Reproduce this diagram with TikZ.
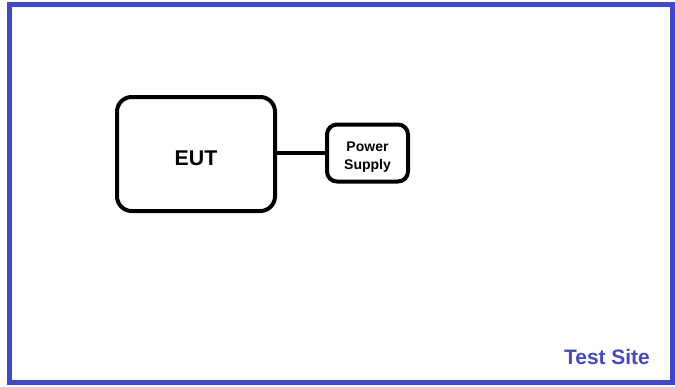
\documentclass[tikz,border=0pt]{standalone}
\usepackage{fontspec}
\setmainfont{Liberation Sans}
\definecolor{siteblue}{RGB}{66,72,206}
\begin{document}
\begin{tikzpicture}[x=0.75pt,y=-0.75pt,
    unit/.style={draw, line width=3pt, rounded corners=11pt, font=\bfseries\fontsize{16}{18}\selectfont},
    supply/.style={draw, line width=3pt, rounded corners=7.5pt, align=center, font=\bfseries\fontsize{10.5}{12.5}\selectfont},
    wire/.style={line width=3pt}]
\useasboundingbox (0,0) rectangle (675,386);
\draw[siteblue, line width=4pt] (9.5,4.5) rectangle (672.5,382.5);
\node[unit, minimum width=118.5pt, minimum height=85.5pt] (eut) at (196,154) {\raisebox{-3pt}[11.5pt][0pt]{EUT}};
\node[supply, minimum width=60.75pt, minimum height=42.75pt] (ps) at (367.5,153) {\raisebox{-1.5pt}[8pt][0pt]{Power}\\[0.5pt]\raisebox{-1.5pt}[8pt][0pt]{Supply}};
\draw[wire] (ps.west) -- (ps.west -| eut.east);
\node[siteblue, font=\bfseries\fontsize{15.7}{18}\selectfont] (site) at (607,357.5) {Test Site};
\end{tikzpicture}
\end{document}
